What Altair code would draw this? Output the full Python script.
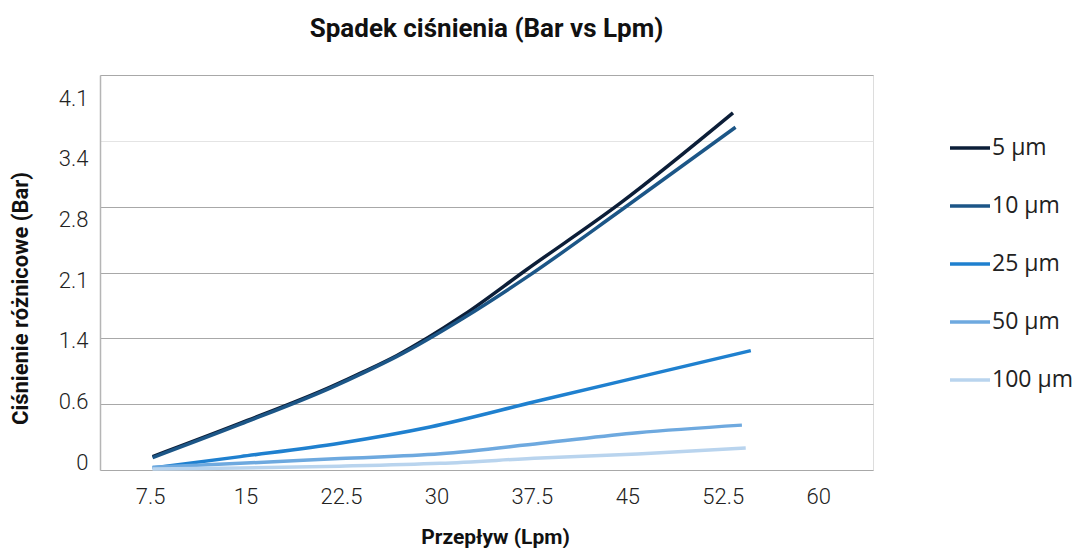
import altair as alt
import pandas as pd

# ---- data ----
series_names = ["5 µm", "10 µm", "25 µm", "50 µm", "100 µm"]
series_colors = ["#0c1e38", "#1c5687", "#1f80cf", "#6ea9df", "#b9d4ee"]

x_5 = [7.7, 14.6, 21.7, 24.3, 26.9, 32.1, 37.1, 44.5, 53.3]
y_5 = [0.14, 0.49, 0.87, 1.03, 1.20, 1.62, 2.10, 2.80, 3.74]

x_10 = [7.7, 14.6, 21.7, 24.3, 26.9, 32.1, 37.1, 44.5, 53.5]
y_10 = [0.13, 0.48, 0.86, 1.02, 1.19, 1.59, 2.02, 2.72, 3.59]

x_25 = [7.7, 14.6, 22.4, 29.5, 38.2, 45.8, 54.7]
y_25 = [0.02, 0.14, 0.28, 0.45, 0.73, 0.97, 1.25]

x_50 = [7.7, 14.6, 22.4, 30.3, 38.2, 45.8, 54.0]
y_50 = [0.03, 0.07, 0.12, 0.17, 0.28, 0.39, 0.47]

x_100 = [7.7, 14.6, 22.4, 30.3, 38.2, 45.8, 54.3]
y_100 = [0.01, 0.02, 0.04, 0.07, 0.126, 0.168, 0.23]

x_ticks = [7.5, 15, 22.5, 30, 37.5, 45, 52.5, 60]
y_tick_labels = ["0", "0.6", "1.4", "2.1", "2.8", "3.4", "4.1"]
y_step = 0.6895  # gridline spacing (bar)

rows = []
for name, xs, ys in zip(series_names,
                        [x_5, x_10, x_25, x_50, x_100],
                        [y_5, y_10, y_25, y_50, y_100]):
    for xv, yv in zip(xs, ys):
        rows.append({"flow": xv, "dp": yv, "series": name})
df = pd.DataFrame(rows)

y_tick_values = [round(i * y_step, 4) for i in range(len(y_tick_labels))]
label_array = "[" + ",".join("'" + s + "'" for s in y_tick_labels) + "]"
y_label_expr = label_array + "[round(datum.value / " + str(y_step) + ")]"

label_font = "Roboto"

chart = alt.Chart(df).mark_line(strokeWidth=3.5, interpolate="monotone").encode(
    x=alt.X("flow:Q",
            scale=alt.Scale(domain=[3.57, 64.3], nice=False, zero=False),
            axis=alt.Axis(values=x_ticks, labelExpr="format(datum.value, '~g')",
                          title="Przepływ (Lpm)", grid=False,
                          domain=False, ticks=False, labelPadding=16,
                          labelFont=label_font, labelFontSize=22, labelFontWeight=300,
                          labelColor="#222222",
                          titleFont="Roboto", titleFontSize=21, titleFontWeight="bold",
                          titleColor="#111111", titleX=395, titleY=67,
                          titleBaseline="middle", titleAnchor="start", titleAlign="center")),
    y=alt.Y("dp:Q",
            scale=alt.Scale(domain=[0, y_tick_values[-1]], nice=False),
            axis=alt.Axis(values=y_tick_values, labelExpr=y_label_expr,
                          title="Ciśnienie różnicowe (Bar)", grid=True,
                          gridColor={"condition": {"test": "datum.value > 3 && datum.value < 4",
                                                   "value": "#e4e4e4"},
                                     "value": "#a8a8a8"},
                          gridWidth=1.2,
                          labelOffset={"condition": {"test": "false", "value": 0},
                                       "expr": "-8 + 5.2 * round(datum.value / 0.6895)"},
                          domain=True, domainColor="#b5b5b5", domainWidth=1.5,
                          ticks=False, labelPadding=12,
                          labelFont=label_font, labelFontSize=22, labelFontWeight=300,
                          labelColor="#222222",
                          titleFont="Roboto", titleFontSize=22, titleFontWeight="bold",
                          titleColor="#111111", titleX=-80, titleY=223,
                          titleAngle=-90, titleAlign="center", titleBaseline="middle")),
    color=alt.Color("series:N",
                    scale=alt.Scale(domain=series_names, range=series_colors),
                    sort=series_names,
                    legend=alt.Legend(title=None, orient="none", legendX=848, legendY=51,
                                      symbolType="stroke", symbolSize=1600,
                                      symbolStrokeWidth=3.5, labelFont="Open Sans",
                                      labelFontSize=23, labelColor="#222222",
                                      labelOffset=0, rowPadding=24)),
).properties(
    width=773,
    height=395,
    title=alt.TitleParams("Spadek ciśnienia (Bar vs Lpm)", font="Roboto",
                          fontSize=26, fontWeight="bold", color="#111111",
                          anchor="middle", offset=33),
    autosize=alt.AutoSizeParams(type="none"),
    padding={"left": 92, "top": 67, "right": 208, "bottom": 78},
).configure_view(stroke=None).configure(background="white")

chart.save("out.html", embed_options={"renderer": "svg", "actions": False})
